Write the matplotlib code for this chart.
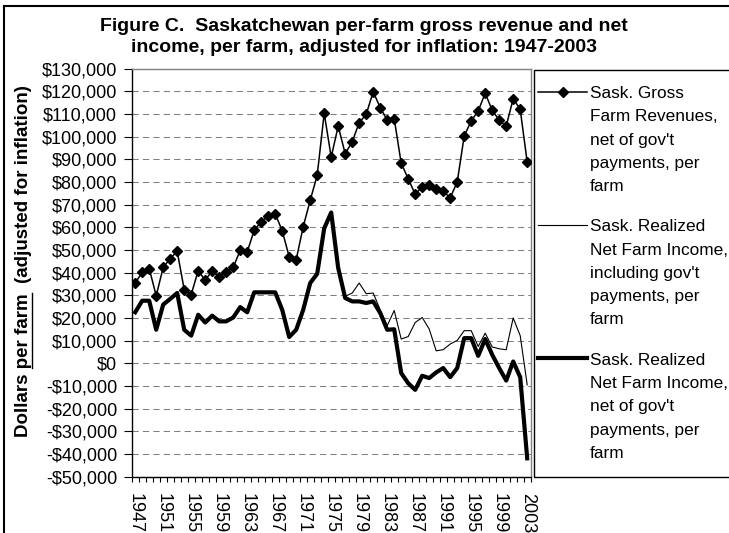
import numpy as np
import matplotlib
matplotlib.use('Agg')
import matplotlib.pyplot as plt
from matplotlib.lines import Line2D
from matplotlib.patches import Rectangle
from matplotlib.ticker import FuncFormatter

plt.rcParams['font.family'] = ['Liberation Sans', 'DejaVu Sans']

# data (dollars per farm, inflation adjusted)
years = list(range(1947, 2004))

gross_rev = [35400, 40100, 41800, 29800, 42300, 46200, 49400, 32500, 30300, 40900,
             36600, 40900, 37900, 40100, 42300, 49800, 49100, 58700, 62400, 64900,
             65900, 58500, 46900, 45700, 60200, 71900, 82900, 110300, 90900, 104600,
             92400, 97700, 106100, 109800, 119700, 112800, 107200, 107900, 88200, 81400,
             74500, 77900, 78600, 76700, 75900, 73000, 79900, 100200, 106900, 111300,
             119100, 111600, 107200, 104600, 116700, 112000, 88700]

net_incl_gov = [22500, 27600, 27600, 14800, 25900, 28400, 31000, 14800, 12200, 21400,
                18000, 21000, 18500, 18500, 20200, 24800, 22500, 31300, 31300, 31300,
                31300, 23600, 11600, 14800, 23600, 35400, 39500, 59500, 66500, 42000,
                29500, 31000, 35400, 30700, 31000, 23600, 16600, 23300, 10700, 11800,
                18000, 20200, 15100, 5500, 6000, 8500, 10100, 14400, 14400, 7400,
                13300, 7200, 6400, 6000, 20000, 12200, -9500]

net_excl_gov = [22500, 27600, 27600, 14800, 25900, 28400, 31000, 14800, 12200, 21400,
                18000, 21000, 18500, 18500, 20200, 24800, 22500, 31300, 31300, 31300,
                31300, 23600, 11600, 14800, 23600, 35400, 39500, 59500, 66500, 42000,
                28800, 27300, 27300, 26600, 27300, 22200, 14800, 15000, -4300, -8800,
                -11700, -5500, -6500, -4000, -2100, -6100, -2100, 11100, 11100, 3300,
                10700, 3800, -2100, -7600, 800, -6100, -41900]

label_years = list(range(1947, 2004, 4))

legend_labels = [
    ["Sask. Gross", "Farm Revenues,", "net of gov't", "payments, per", "farm"],
    ["Sask. Realized", "Net Farm Income,", "including gov't", "payments, per", "farm"],
    ["Sask. Realized", "Net Farm Income,", "net of gov't", "payments, per", "farm"],
]

W, H = 729, 533
fig = plt.figure(figsize=(W / 100, H / 100), dpi=100)


def fx(px):
    return px / W


def fy(py):
    return 1 - py / H


ax = fig.add_axes([fx(131.7), fy(476.7), fx(530.7) - fx(131.7), fy(68.5) - fy(476.7)])

ax.plot(years, gross_rev, color='black', lw=1.1, marker='D', ms=4.8, zorder=3)
ax.plot(years, net_incl_gov, color='black', lw=0.8, zorder=4)
ax.plot(years, net_excl_gov, color='black', lw=3.0, zorder=5)

ax.set_xlim(1946.5, 2003.5)
ax.set_ylim(-50000, 130000)
ax.set_yticks(range(-50000, 130001, 10000))
ax.yaxis.set_major_formatter(FuncFormatter(
    lambda v, _: f"${v:,.0f}" if v >= 0 else f"-${-v:,.0f}"))
ax.yaxis.grid(True, linestyle=(0, (6, 4)), color='#808080', lw=0.75)
ax.set_axisbelow(True)

ax.set_xticks(label_years)
ax.set_xticks(np.arange(1946.5, 2004, 1.0), minor=True)
ax.tick_params(axis='x', which='major', length=0, pad=11.5, labelsize=13, labelrotation=270)
ax.tick_params(axis='x', which='minor', length=3.3, width=0.8, direction='out')
ax.tick_params(axis='y', length=5.5, width=0.8, pad=5, labelsize=13)

for s in ['top', 'right']:
    ax.spines[s].set_color('#808080')
    ax.spines[s].set_linewidth(1.0)
for s in ['left', 'bottom']:
    ax.spines[s].set_color('black')
    ax.spines[s].set_linewidth(1.0)

# title
fig.text(fx(364), fy(30.7), 'Figure C.  Saskatchewan per-farm gross revenue and net',
         ha='center', va='baseline', fontsize=14, fontweight='bold')
fig.text(fx(364), fy(51.7), 'income, per farm, adjusted for inflation: 1947-2003',
         ha='center', va='baseline', fontsize=14, fontweight='bold')

# y label with "per farm" underlined
ylab = fig.text(fx(24), fy(261), 'Dollars per farm  (adjusted for inflation)',
                rotation=90, ha='center', va='center', fontsize=13.5, fontweight='bold')

# outer chart border (left / top)
fig.add_artist(Line2D([fx(4), fx(4)], [fy(6), 0], color='black', lw=1.5))
fig.add_artist(Line2D([fx(4), 1], [fy(6), fy(6)], color='black', lw=1.5))

# legend box
fig.add_artist(Rectangle((fx(534), fy(476.7)), fx(760) - fx(534), fy(70) - fy(476.7),
                         transform=fig.transFigure, fill=False, edgecolor='black', lw=1.0))

first_line = [91.7, 225.0, 358.3]
styles = [dict(lw=1.1), dict(lw=0.8), dict(lw=3.0)]
for i, lines in enumerate(legend_labels):
    yy = first_line[i]
    fig.add_artist(Line2D([fx(538), fx(587)], [fy(yy), fy(yy)], color='black', **styles[i]))
    if i == 0:
        fig.add_artist(Line2D([fx(562.5)], [fy(yy)], color='black', marker='D', ms=4.8, lw=0))
    for k, t in enumerate(lines):
        fig.text(fx(590), fy(yy + 6.3 + k * 23.3), t, ha='left', va='baseline', fontsize=12.4)

fig.canvas.draw()
r = fig.canvas.get_renderer()
bb = ylab.get_window_extent(r)
fp = ylab.get_fontproperties()
w_all, _, _ = r.get_text_width_height_descent('Dollars per farm', fp, ismath=False)
w_uln, _, _ = r.get_text_width_height_descent('per farm', fp, ismath=False)
y_end = bb.y0 + w_all
y_start = y_end - w_uln
x_line = bb.x1 - 0.5
fig.add_artist(Line2D([x_line / W, x_line / W], [y_start / H, y_end / H], color='black', lw=1.0))

fig.savefig('out.png', dpi=100)
